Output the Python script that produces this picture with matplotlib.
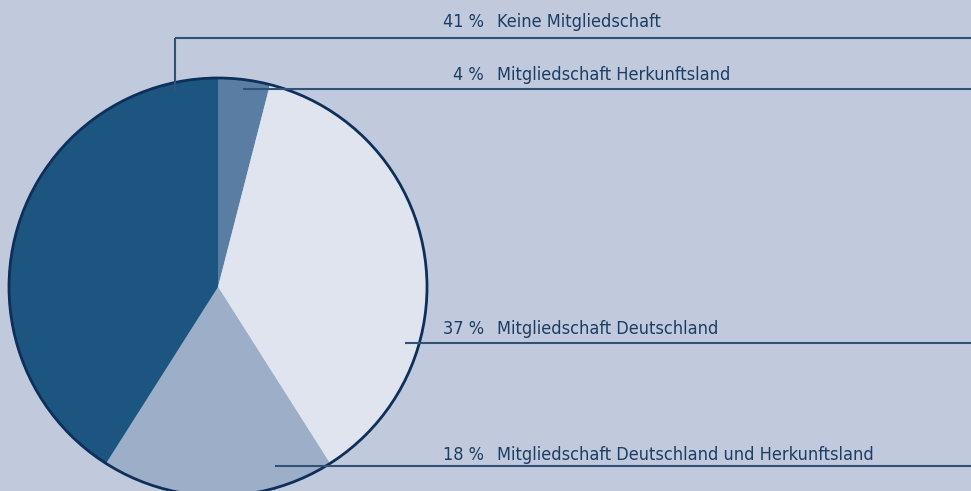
import matplotlib
matplotlib.use("Agg")
from matplotlib import pyplot as plt
from matplotlib.patches import Circle

# data, clockwise from the top
labels = ["Mitgliedschaft Herkunftsland", "Mitgliedschaft Deutschland",
          "Mitgliedschaft Deutschland und Herkunftsland", "Keine Mitgliedschaft"]
shares = [4, 37, 18, 41]
colors = ["#5a7ea3", "#e0e4ee", "#9daec8", "#1c5580"]

W, H = 971, 491
bg = "#c0cadc"
navy = "#1e3d64"
line_col = "#2f5278"

def Y(y):  # pixel row -> data y
    return H - y

fig = plt.figure(figsize=(W / 100, H / 100), dpi=100, facecolor=bg)
ax = fig.add_axes([0, 0, 1, 1])
ax.set_facecolor(bg)

cx, cy, r = 218, 287, 209
ax.pie(shares, colors=colors, startangle=90, counterclock=False,
       center=(cx, Y(cy)), radius=r, frame=True,
       wedgeprops=dict(linewidth=0))
ax.add_patch(Circle((cx, Y(cy)), r, fill=False, edgecolor="#0d2f5a", lw=2, zorder=3))

# label rows: (text row, leader line row, line start x), order matches labels
rows = [(75, 89, 243), (329, 343, 405), (455, 466, 275), (22, 38, 175)]
tk = dict(fontsize=13, color=navy, family="DejaVu Sans", stretch="condensed", va="center")
for lab, val, (ty, ly, lx) in zip(labels, shares, rows):
    ax.plot([lx, W], [Y(ly), Y(ly)], color=line_col, lw=1.5,
            solid_capstyle="butt", zorder=4)
    ax.text(484, Y(ty), "%d %%" % val, ha="right", **tk)
    ax.text(497, Y(ty), lab, ha="left", **tk)

# vertical piece of the top leader
ax.plot([175, 175], [Y(38), Y(91)], color=line_col, lw=1.5,
        solid_capstyle="butt", zorder=4)

ax.set_xlim(0, W)
ax.set_ylim(0, H)
ax.set_aspect("auto")
ax.axis("off")

fig.savefig("out.png", dpi=100, facecolor=bg)
